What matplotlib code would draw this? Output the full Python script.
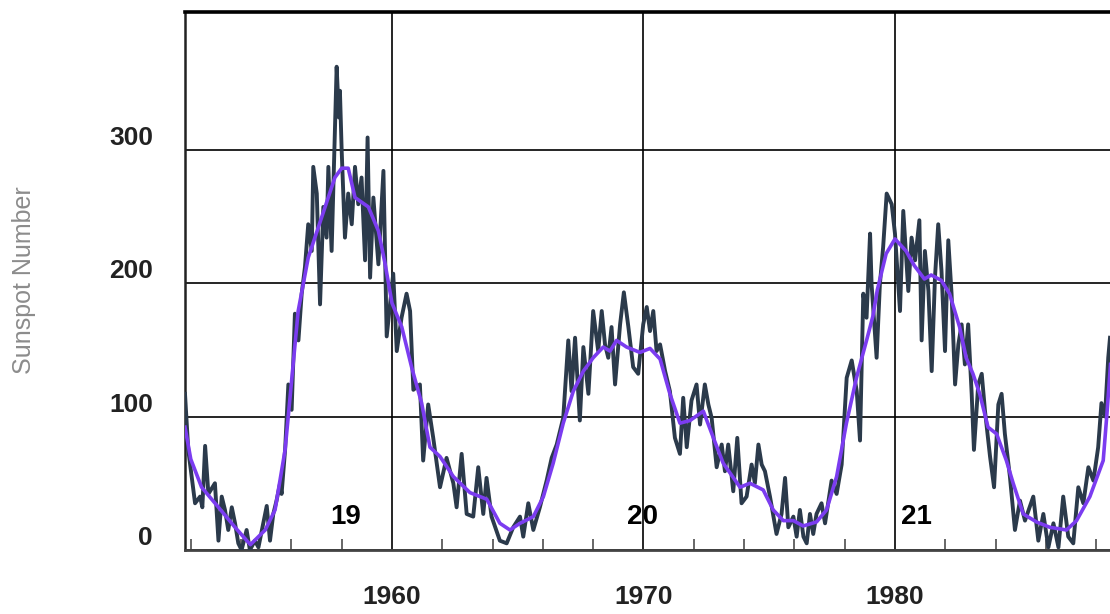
import numpy as np
import matplotlib
matplotlib.use("Agg")
import matplotlib.pyplot as plt
from matplotlib.ticker import FixedLocator

plt.rcParams['font.family'] = ['Liberation Sans', 'DejaVu Sans']

# monthly sunspot number (roughly every 2 months)
raw_year = [1951.77, 1951.90, 1952.17, 1952.37, 1952.46, 1952.57, 1952.70, 1952.96, 1953.10, 1953.23,
            1953.36, 1953.49, 1953.63, 1953.76, 1953.89, 1954.02, 1954.22, 1954.35, 1954.55, 1954.69,
            1955.02, 1955.15, 1955.28, 1955.41, 1955.55, 1955.61, 1955.75, 1955.88, 1956.01, 1956.14,
            1956.28, 1956.41, 1956.54, 1956.67, 1956.81, 1956.87, 1957.01, 1957.14, 1957.27, 1957.40,
            1957.47, 1957.60, 1957.73, 1957.80, 1957.89, 1957.93, 1958.00, 1958.13, 1958.26, 1958.40,
            1958.53, 1958.66, 1958.79, 1958.93, 1959.03, 1959.13, 1959.26, 1959.46, 1959.66, 1959.79,
            1960.05, 1960.19, 1960.38, 1960.58, 1960.72, 1960.85, 1961.11, 1961.24, 1961.44, 1961.64,
            1961.91, 1962.17, 1962.44, 1962.57, 1962.77, 1962.97, 1963.23, 1963.43, 1963.63, 1963.76,
            1963.96, 1964.29, 1964.56, 1964.82, 1965.09, 1965.22, 1965.42, 1965.62, 1965.88, 1966.15,
            1966.35, 1966.55, 1966.81, 1967.01, 1967.14, 1967.28, 1967.47, 1967.61, 1967.81, 1968.00,
            1968.20, 1968.34, 1968.47, 1968.60, 1968.73, 1968.87, 1969.07, 1969.22, 1969.40, 1969.59,
            1969.79, 1969.99, 1970.13, 1970.26, 1970.39, 1970.52, 1970.66, 1970.86, 1971.05, 1971.25,
            1971.45, 1971.58, 1971.72, 1971.91, 1972.11, 1972.25, 1972.44, 1972.58, 1972.71, 1972.91,
            1973.11, 1973.24, 1973.37, 1973.57, 1973.73, 1973.90, 1974.10, 1974.30, 1974.43, 1974.57,
            1974.70, 1974.83, 1975.03, 1975.29, 1975.49, 1975.63, 1975.76, 1975.96, 1976.09, 1976.22,
            1976.36, 1976.49, 1976.62, 1976.75, 1976.88, 1977.08, 1977.22, 1977.48, 1977.68, 1977.88,
            1978.08, 1978.28, 1978.48, 1978.61, 1978.74, 1978.87, 1979.01, 1979.07, 1979.27, 1979.40,
            1979.53, 1979.67, 1979.87, 1980.00, 1980.20, 1980.33, 1980.53, 1980.66, 1980.80, 1980.97,
            1981.06, 1981.19, 1981.33, 1981.46, 1981.59, 1981.72, 1981.85, 1981.99, 1982.12, 1982.25,
            1982.39, 1982.52, 1982.65, 1982.78, 1982.91, 1983.05, 1983.14, 1983.31, 1983.45, 1983.58,
            1983.78, 1983.94, 1984.11, 1984.24, 1984.37, 1984.57, 1984.77, 1984.97, 1985.17, 1985.50,
            1985.70, 1985.90, 1986.10, 1986.30, 1986.50, 1986.69, 1986.89, 1987.09, 1987.29, 1987.49,
            1987.69, 1987.89, 1988.08, 1988.21, 1988.35, 1988.48, 1988.55]
raw_value = [117, 75, 35, 40, 32, 78, 42, 50, 7, 40,
             30, 15, 32, 20, 5, 0, 15, 0, 7, 2,
             33, 7, 27, 37, 50, 42, 75, 124, 105, 177,
             157, 192, 212, 244, 224, 287, 267, 184, 257, 234,
             287, 224, 312, 362, 324, 344, 299, 234, 267, 244,
             287, 259, 279, 217, 309, 204, 264, 214, 284, 160,
             207, 149, 174, 192, 179, 120, 124, 67, 109, 84,
             47, 69, 50, 32, 72, 27, 25, 62, 27, 54,
             25, 7, 5, 17, 25, 10, 35, 15, 32, 52,
             69, 79, 99, 157, 119, 159, 97, 152, 117, 179,
             149, 179, 154, 144, 167, 124, 169, 193, 167, 137,
             132, 169, 182, 164, 179, 149, 154, 134, 119, 84,
             72, 114, 77, 112, 124, 94, 124, 109, 99, 62,
             79, 59, 79, 44, 84, 35, 40, 64, 50, 79,
             64, 59, 40, 12, 27, 54, 17, 25, 10, 30,
             10, 5, 27, 12, 27, 35, 20, 52, 42, 64,
             129, 142, 119, 82, 192, 174, 237, 199, 144, 199,
             227, 267, 259, 237, 179, 254, 194, 234, 217, 247,
             157, 224, 194, 134, 204, 244, 209, 149, 232, 192,
             124, 154, 169, 139, 169, 117, 75, 124, 132, 104,
             70, 47, 109, 117, 87, 55, 15, 37, 22, 40,
             7, 27, 2, 20, 2, 40, 10, 5, 47, 35,
             62, 52, 77, 110, 100, 144, 159]

# 13-month smoothed sunspot number
smooth_year = [1951.77, 1952.00, 1952.43, 1953.10, 1953.76, 1954.37, 1954.96, 1955.35, 1955.75, 1956.00,
               1956.27, 1956.67, 1957.20, 1957.73, 1958.00, 1958.26, 1958.53, 1959.06, 1959.46, 1959.72,
               1960.00, 1960.39, 1960.78, 1961.18, 1961.51, 1961.91, 1962.44, 1963.10, 1963.77, 1964.29,
               1964.69, 1965.09, 1965.62, 1966.02, 1966.41, 1966.81, 1967.21, 1967.61, 1968.00, 1968.40,
               1968.67, 1968.93, 1969.33, 1969.86, 1970.26, 1970.66, 1971.05, 1971.45, 1971.85, 1972.38,
               1972.78, 1973.17, 1973.84, 1974.23, 1974.76, 1975.16, 1975.56, 1975.96, 1976.35, 1976.88,
               1977.28, 1977.68, 1978.07, 1978.47, 1978.87, 1979.12, 1979.30, 1979.65, 1980.00, 1980.44,
               1980.77, 1981.17, 1981.44, 1981.84, 1982.17, 1982.57, 1982.83, 1983.10, 1983.37, 1983.70,
               1984.04, 1984.43, 1984.70, 1985.10, 1985.63, 1986.16, 1986.82, 1987.22, 1987.75, 1988.28,
               1988.42, 1988.57]
smooth_value = [92, 68, 47, 32, 17, 4, 15, 30, 75, 125,
                179, 219, 249, 279, 286, 286, 264, 257, 239, 215,
                185, 167, 137, 110, 77, 70, 55, 43, 38, 20,
                15, 20, 25, 40, 65, 95, 119, 134, 144, 152,
                149, 157, 152, 148, 151, 143, 117, 95, 97, 104,
                84, 65, 47, 50, 45, 30, 22, 22, 18, 21,
                30, 55, 95, 129, 157, 175, 195, 222, 233, 224,
                213, 203, 206, 202, 192, 167, 144, 132, 117, 92,
                87, 67, 50, 27, 21, 17, 15, 22, 40, 67,
                100, 139]

cycle_names = ['19', '20', '21']
cycle_year = [1958.17, 1969.98, 1980.87]
cycle_level = 25

fig = plt.figure(figsize=(11.1, 6.14), dpi=100)
ax = fig.add_axes([185 / 1110, 64 / 614, 925 / 1110, 538 / 614])

ax.plot(raw_year, raw_value, color='#2b3a4b', lw=2.8, zorder=3)
ax.plot(smooth_year, smooth_value, color='#7b3cf0', lw=2.6, zorder=4)

for name, yr in zip(cycle_names, cycle_year):
    ax.text(yr, cycle_level, name, ha='center', va='center',
            fontsize=20, fontweight='bold', color='black', zorder=5)

ax.set_xlim(1951.77, 1988.55)
ax.set_ylim(0, 403)

ax.set_xticks([1960, 1970, 1980])
ax.set_xticklabels(['1960', '1970', '1980'], fontsize=19, fontweight='bold', color='#222222')
ax.xaxis.set_minor_locator(FixedLocator(np.arange(1952, 1990, 2)))
ax.set_yticks([0, 100, 200, 300])
ax.set_yticklabels(['0', '100', '200', '300'], fontsize=19, fontweight='bold',
                   color='#222222', va='bottom')

ax.tick_params(axis='x', which='major', length=0, pad=25)
ax.tick_params(axis='x', which='minor', direction='in', length=8, width=1.4, color='#666666')
ax.tick_params(axis='y', which='major', length=0, pad=23)

ax.grid(True, which='major', color='black', lw=1.2)
ax.set_axisbelow(True)

ax.spines['right'].set_visible(False)
ax.spines['top'].set_linewidth(2.6)
ax.spines['top'].set_color('black')
ax.spines['left'].set_linewidth(1.8)
ax.spines['left'].set_color('#222222')
ax.spines['bottom'].set_linewidth(2.0)
ax.spines['bottom'].set_color('#444444')

fig.text(24 / 1110, 1 - 280 / 614, 'Sunspot Number', rotation=90, ha='center', va='center',
         fontsize=18, color='#8c8c8c')

fig.savefig('out.png', dpi=100)
